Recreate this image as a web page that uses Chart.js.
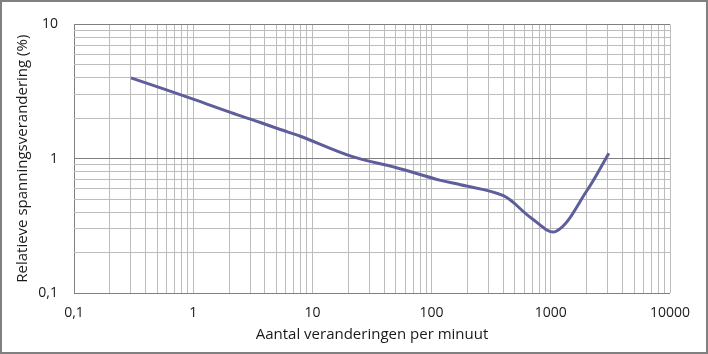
<!DOCTYPE html>
<html>
<head>
<meta charset="utf-8">
<script src="https://cdn.jsdelivr.net/npm/chart.js@4/dist/chart.umd.min.js"></script>
<style>
  html, body { margin: 0; padding: 0; background: #fff; }
  #wrap { width: 708px; height: 354px; }
</style>
</head>
<body>
<div id="wrap"><canvas id="myChart" width="708" height="354"></canvas></div>
<script>
// Waarden (log-log)
var veranderingen = [0.3, 1, 2.05, 3.66, 5.38, 7.93, 21.4, 50, 119, 175, 400, 680, 1100, 2000, 3070];
var spanning      = [4.0, 2.78, 2.21, 1.86, 1.65, 1.47, 1.04, 0.86, 0.69, 0.64, 0.53, 0.364, 0.287, 0.575, 1.1];

// Rasterlijnen en labels
var xTicks = [];
var yTicks = [];
[0.1, 1, 10, 100, 1000].forEach(function (d) {
    for (var k = 1; k < 10; k++) xTicks.push(+(d * k).toPrecision(3));
});
xTicks.push(10000);
[0.1, 1].forEach(function (d) {
    for (var k = 1; k < 10; k++) yTicks.push(+(d * k).toPrecision(3));
});
yTicks.push(10);
var xLabels = { 0.1: '0,1', 1: '1', 10: '10', 100: '100', 1000: '1000', 10000: '10000' };
var yLabels = { 0.1: '0,1', 1: '1', 10: '10' };

var lijnKleur = '#5e5e9c';
var lichtGrijs = '#bcbcbc';
var donkerGrijs = '#808080';

// Rand rond de hele afbeelding
var kader = {
    id: 'kader',
    afterDraw: function (chart) {
        var ctx = chart.ctx;
        ctx.save();
        ctx.strokeStyle = donkerGrijs;
        ctx.lineWidth = 2;
        ctx.strokeRect(1, 1, chart.width - 2, chart.height - 2);
        ctx.restore();
    }
};

var ctx = document.getElementById('myChart').getContext('2d');
var myChart = new Chart(ctx, {
    type: 'line',
    data: {
        datasets: [{
            data: veranderingen.map(function (x, i) { return { x: x, y: spanning[i] }; }),
            borderColor: lijnKleur,
            borderWidth: 3,
            pointRadius: 0,
            fill: false,
            tension: 0.35
        }]
    },
    options: {
        responsive: false,
        animation: false,
        layout: { padding: { top: 22, right: 38, left: 0, bottom: 0 } },
        plugins: { legend: { display: false }, tooltip: { enabled: false } },
        scales: {
            x: {
                type: 'logarithmic',
                min: 0.1,
                max: 10000,
                afterBuildTicks: function (scale) {
                    scale.ticks = xTicks.map(function (v) { return { value: v }; });
                },
                afterFit: function (scale) { scale.height = 61; },
                border: { display: false },
                grid: {
                    drawTicks: false,
                    lineWidth: 1,
                    color: function (c) {
                        return c.tick && c.tick.value === 0.1 ? donkerGrijs : lichtGrijs;
                    }
                },
                ticks: {
                    autoSkip: false,
                    maxRotation: 0,
                    padding: 12,
                    color: '#1a1a1a',
                    font: { family: 'Open Sans', size: 14 },
                    callback: function (v) { return xLabels[v] !== undefined ? xLabels[v] : ''; }
                },
                title: {
                    display: true,
                    text: 'Aantal veranderingen per minuut',
                    color: '#1a1a1a',
                    font: { family: 'Open Sans', size: 15 },
                    padding: { top: 2, bottom: 10 }
                }
            },
            y: {
                type: 'logarithmic',
                min: 0.1,
                max: 10,
                afterBuildTicks: function (scale) {
                    scale.ticks = yTicks.map(function (v) { return { value: v }; });
                },
                afterFit: function (scale) { scale.width = 74; },
                border: { display: false },
                grid: {
                    drawTicks: false,
                    lineWidth: 1,
                    color: function (c) {
                        var v = c.tick ? c.tick.value : 0;
                        return (v === 0.1 || v === 1 || v === 10) ? donkerGrijs : lichtGrijs;
                    }
                },
                ticks: {
                    autoSkip: false,
                    padding: 16,
                    color: '#1a1a1a',
                    font: { family: 'Open Sans', size: 14 },
                    callback: function (v) { return yLabels[v] !== undefined ? yLabels[v] : ''; }
                },
                title: {
                    display: true,
                    text: 'Relatieve spanningsverandering (%)',
                    color: '#1a1a1a',
                    font: { family: 'Open Sans', size: 15 },
                    padding: { top: 14, bottom: 0 }
                }
            }
        }
    },
    plugins: [kader]
});
</script>
</body>
</html>
